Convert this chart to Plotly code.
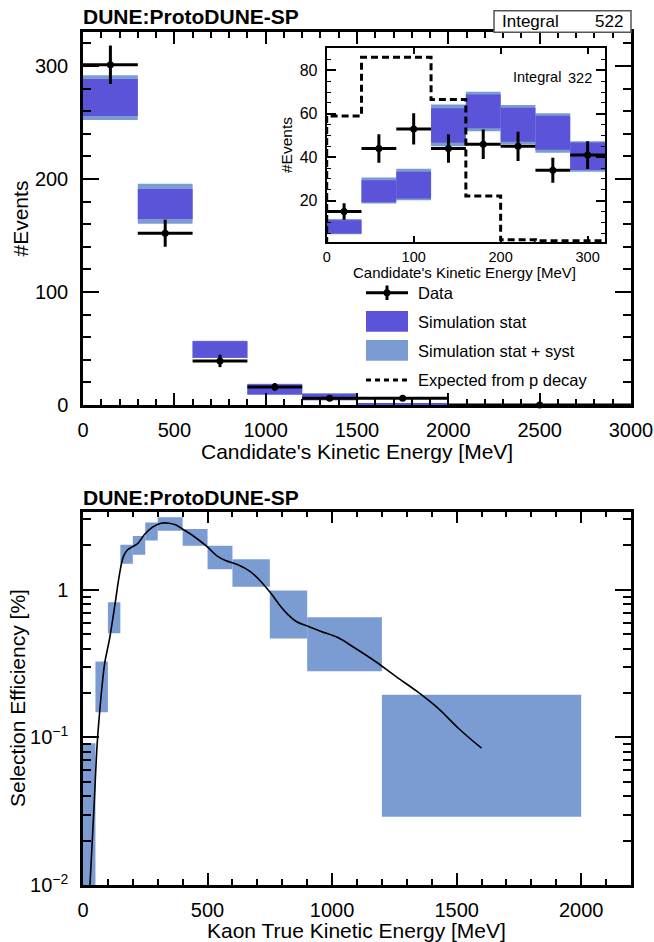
import plotly.graph_objects as go

W, H = 654, 942
def X(px): return px / W
def Y(py): return 1 - py / H

FONT = "Liberation Sans, Arial, sans-serif"
DARK = "#5b54d8"
LIGHT = "#7b9bd3"

# ---------------- main panel data ----------------
main_lo_edges = [0, 300, 600, 900, 1200, 1500, 2000]
main_hi_edges = [300, 600, 900, 1200, 1500, 2000, 3000]
data_counts = [301, 152, 39, 16, 6, 6, 0]
data_err = [17, 12, 5.5, 3.5, 2.5, 2.5, 0]
stat_lo = [255.7, 164.6, 41.9, 9.4, 4.4, 0.4, None]
stat_hi = [288.5, 191.0, 56.4, 18.3, 10.0, 1.0, None]
syst_lo = [252.2, 160.4, 41.5, 9.0, 3.9, 0.0, None]
syst_hi = [291.7, 195.8, 56.8, 18.7, 10.5, 1.5, None]

# ---------------- inset data ----------------
inset_edges = [0, 40, 80, 120, 160, 200, 240, 280, 320]
inset_counts = [15, 44, 53, 44, 46, 45, 34, 41]
inset_err = [3.8, 6.6, 7.2, 6.6, 6.8, 6.7, 5.8, 6.4]
inset_stat_lo = [4.9, 19.2, 21.0, 46.6, 53.3, 47.1, 43.4, 34.1]
inset_stat_hi = [11.0, 29.4, 33.3, 62.5, 68.9, 62.8, 59.1, 46.8]
inset_syst_lo = [4.5, 18.7, 20.2, 45.1, 52.0, 46.0, 42.0, 33.3]
inset_syst_hi = [11.5, 30.7, 34.7, 64.3, 70.1, 64.0, 60.2, 47.4]
pdecay_expected = [59, 86, 86, 66.6, 22.1, 2.0, 1.5, 1.5]

# ---------------- efficiency data ----------------
eff_lo_edges = [0, 50, 100, 150, 200, 250, 300, 400, 500, 600, 750, 900, 1200]
eff_hi_edges = [50, 100, 150, 200, 250, 300, 400, 500, 600, 750, 900, 1200, 2000]
eff_low = [0.001, 0.148, 0.508, 1.50, 1.73, 2.16, 2.52, 1.99, 1.38, 1.05, 0.468, 0.281, 0.0290]
eff_high = [0.0913, 0.327, 0.825, 2.02, 2.32, 2.86, 3.11, 2.58, 1.99, 1.61, 0.99, 0.653, 0.195]
curve_x = [28, 45, 57, 70, 79, 87, 107, 129, 145, 162, 179, 201, 221, 246, 279, 313, 346,
           371, 405, 446, 497, 538, 572, 622, 672, 714, 756, 789, 823, 856, 906, 956,
           1023, 1090, 1174, 1257, 1341, 1425, 1508, 1600]
curve_y = [0.01, 0.0358, 0.0912, 0.171, 0.245, 0.318, 0.470, 0.81, 1.23, 1.68, 1.87, 1.97,
           2.07, 2.36, 2.66, 2.83, 2.83, 2.76, 2.55, 2.30, 1.97, 1.70, 1.58, 1.48, 1.33,
           1.14, 0.94, 0.79, 0.68, 0.61, 0.564, 0.522, 0.475, 0.405, 0.327, 0.258, 0.205,
           0.158, 0.115, 0.0845]


def centers(lo, hi):
    return [(a + b) / 2 for a, b in zip(lo, hi)]

def widths(lo, hi):
    return [b - a for a, b in zip(lo, hi)]

def band(lo_e, hi_e, lo, hi, color, xa, ya):
    xs, ws, bs, hs = [], [], [], []
    for a, b, l, h in zip(lo_e, hi_e, lo, hi):
        if l is None:
            continue
        xs.append((a + b) / 2); ws.append(b - a); bs.append(l); hs.append(h - l)
    return go.Bar(x=xs, y=hs, base=bs, width=ws, marker=dict(color=color, line=dict(width=0)),
                  xaxis=xa, yaxis=ya, showlegend=False, hoverinfo="skip")

fig = go.Figure()

# main panel
fig.add_trace(band(main_lo_edges, main_hi_edges, syst_lo, syst_hi, LIGHT, "x", "y"))
fig.add_trace(band(main_lo_edges, main_hi_edges, stat_lo, stat_hi, DARK, "x", "y"))
fig.add_trace(go.Scatter(
    x=centers(main_lo_edges, main_hi_edges), y=data_counts, mode="markers",
    marker=dict(color="black", size=7),
    error_x=dict(type="data", array=[w / 2 for w in widths(main_lo_edges, main_hi_edges)],
                 color="black", thickness=3, width=0),
    error_y=dict(type="data", array=data_err, color="black", thickness=3, width=0),
    xaxis="x", yaxis="y", showlegend=False, cliponaxis=False))

# inset
fig.add_trace(band(inset_edges[:-1], inset_edges[1:], inset_syst_lo, inset_syst_hi, LIGHT, "x2", "y2"))
fig.add_trace(band(inset_edges[:-1], inset_edges[1:], inset_stat_lo, inset_stat_hi, DARK, "x2", "y2"))
fig.add_trace(go.Scatter(
    x=[inset_edges[0]] + inset_edges, y=[0] + pdecay_expected + [pdecay_expected[-1]],
    mode="lines", line=dict(color="black", width=3, dash="7px,4px", shape="hv"),
    xaxis="x2", yaxis="y2", showlegend=False))
fig.add_trace(go.Scatter(
    x=centers(inset_edges[:-1], inset_edges[1:]), y=inset_counts, mode="markers",
    marker=dict(color="black", size=7),
    error_x=dict(type="data", array=[w / 2 for w in widths(inset_edges[:-1], inset_edges[1:])],
                 color="black", thickness=3, width=0),
    error_y=dict(type="data", array=inset_err, color="black", thickness=3, width=0),
    xaxis="x2", yaxis="y2", showlegend=False))

# efficiency panel
fig.add_trace(go.Bar(
    x=centers(eff_lo_edges, eff_hi_edges), y=[h - l for h, l in zip(eff_high, eff_low)],
    base=eff_low, width=widths(eff_lo_edges, eff_hi_edges),
    marker=dict(color=LIGHT, line=dict(width=0)), xaxis="x3", yaxis="y3",
    showlegend=False, hoverinfo="skip"))
fig.add_trace(go.Scatter(
    x=curve_x, y=curve_y, mode="lines", line=dict(color="black", width=1.6, shape="spline"),
    xaxis="x3", yaxis="y3", showlegend=False))

axis_common = dict(showgrid=False, zeroline=False, showline=True, linecolor="black",
                   mirror="allticks", ticks="inside", tickcolor="black", automargin=False)

fig.update_layout(
    width=W, height=H, autosize=False, margin=dict(l=0, r=0, t=0, b=0, pad=0),
    paper_bgcolor="white", plot_bgcolor="rgba(0,0,0,0)",
    barmode="overlay", font=dict(family=FONT, color="black"),
    xaxis=dict(**axis_common, domain=[X(83), X(631)], anchor="y", range=[0, 3000],
               tickvals=[0, 500, 1000, 1500, 2000, 2500, 3000], ticklen=12, tickwidth=2, linewidth=2.5,
               minor=dict(dtick=100, tick0=0, ticklen=6, tickwidth=1.5, ticks="inside", tickcolor="black"),
               tickfont=dict(size=20), ticklabelstandoff=5),
    yaxis=dict(**axis_common, domain=[Y(405), Y(32)], anchor="x", range=[0, 330],
               tickvals=[0, 100, 200, 300], ticklen=16, tickwidth=2, linewidth=2.5,
               minor=dict(dtick=20, tick0=0, ticklen=8, tickwidth=1.5, ticks="inside", tickcolor="black"),
               tickfont=dict(size=20), ticklabelstandoff=8),
    xaxis2=dict(**axis_common, domain=[X(326.7), X(605)], anchor="y2", range=[0, 320],
                tickvals=[0, 100, 200, 300], ticklen=6, tickwidth=1.5, linewidth=2,
                tickfont=dict(size=14.5), ticklabelstandoff=0),
    yaxis2=dict(**axis_common, domain=[Y(242.3), Y(48)], anchor="x2", range=[0.8, 90.3],
                tickvals=[20, 40, 60, 80], ticklen=9, tickwidth=1.5, linewidth=2,
                minor=dict(dtick=5, tick0=0, ticklen=4, tickwidth=1, ticks="inside", tickcolor="black"),
                tickfont=dict(size=16), ticklabelstandoff=4),
    xaxis3=dict(**axis_common, domain=[X(83), X(631)], anchor="y3", range=[0, 2200],
                tickvals=[0, 500, 1000, 1500, 2000], ticklen=12, tickwidth=2, linewidth=2.5,
                minor=dict(dtick=100, tick0=0, ticklen=6, tickwidth=1.5, ticks="inside", tickcolor="black"),
                tickfont=dict(size=20), ticklabelstandoff=5),
    yaxis3=dict(**axis_common, domain=[Y(885), Y(511.5)], anchor="x3", type="log",
                range=[-2, 0.531], tickvals=[0.01, 0.1, 1],
                ticktext=["10<sup>−2</sup>", "10<sup>−1</sup>", "1"], ticklen=16, tickwidth=2, linewidth=2.5,
                minor=dict(tickvals=[0.02, 0.03, 0.04, 0.05, 0.06, 0.07, 0.08, 0.09,
                                     0.2, 0.3, 0.4, 0.5, 0.6, 0.7, 0.8, 0.9, 2, 3],
                           ticklen=8, tickwidth=1.5, ticks="inside", tickcolor="black"),
                tickfont=dict(size=20), ticklabelstandoff=8),
)

ann = []
def text(x, y, s, size, xanchor="left", bold=False, angle=0):
    ann.append(dict(x=X(x), y=Y(y), xref="paper", yref="paper", text=("<b>%s</b>" % s) if bold else s,
                    showarrow=False, xanchor=xanchor, yanchor="middle", textangle=angle,
                    font=dict(size=size, family=FONT, color="black")))

text(81, 17, "DUNE:ProtoDUNE-SP", 21, bold=True)
text(81, 497, "DUNE:ProtoDUNE-SP", 21, bold=True)
text(357, 451, "Candidate's Kinetic Energy [MeV]", 21, xanchor="center")
text(20, 218.5, "#Events", 21, xanchor="center", angle=-90)
text(357, 930, "Kaon True Kinetic Energy [MeV]", 21, xanchor="center")
text(17, 698, "Selection Efficiency [%]", 21, xanchor="center", angle=-90)
text(465, 272.5, "Candidate's Kinetic Energy [MeV]", 15, xanchor="center")
text(287, 145, "#Events", 15.5, xanchor="center", angle=-90)
text(511, 77, "Integral", 14.5)
text(594, 78, "322", 14.5, xanchor="right")
text(500, 21.5, "Integral", 17)
text(625, 21.5, "522", 17, xanchor="right")
# legend text
text(416, 292.7, "Data", 16.5)
text(416, 321.7, "Simulation stat", 16.5)
text(416, 350.5, "Simulation stat + syst", 16.5)
text(416, 380, "Expected from p decay", 16.5)

shapes = []
def pr(x0, y0, x1, y1, **kw):
    shapes.append(dict(type="rect", xref="paper", yref="paper", x0=X(x0), x1=X(x1), y0=Y(y0), y1=Y(y1), **kw))
def pl(x0, y0, x1, y1, **kw):
    shapes.append(dict(type="line", xref="paper", yref="paper", x0=X(x0), x1=X(x1), y0=Y(y0), y1=Y(y1), **kw))

# Integral box
pr(494, 10.7, 631, 32.3, line=dict(color="#555555", width=1.5), fillcolor="white")
# legend keys
pl(366, 292.7, 408, 292.7, line=dict(color="black", width=3))
pl(387, 285.5, 387, 300, line=dict(color="black", width=3))
shapes.append(dict(type="circle", xref="paper", yref="paper", x0=X(383.5), x1=X(390.5),
                   y0=Y(296.2), y1=Y(289.2), fillcolor="black", line=dict(color="black", width=0)))
pr(366, 311, 408, 331.7, fillcolor=DARK, line=dict(width=0))
pr(366, 340, 408, 360.7, fillcolor=LIGHT, line=dict(width=0))
pl(366, 380, 408, 380, line=dict(color="black", width=3, dash="5px,4px"))

fig.update_layout(annotations=ann, shapes=shapes)
fig.write_html("out.html")
